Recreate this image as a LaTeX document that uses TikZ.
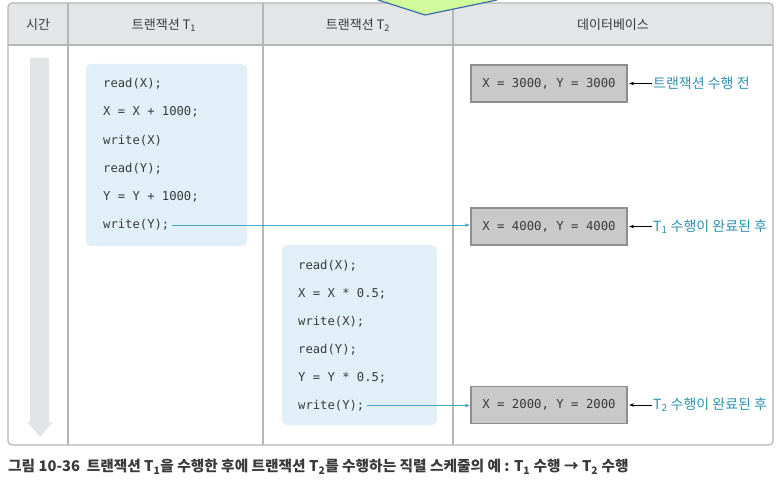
\documentclass[tikz,border=0pt]{standalone}
\usepackage{fontspec}
\setmainfont{Noto Sans CJK KR}
\setmonofont{DejaVu Sans Mono}
\usetikzlibrary{arrows.meta}

\definecolor{hdrgray}{HTML}{E4E5E7}
\definecolor{linegray}{HTML}{B4B6B8}
\definecolor{codeblue}{HTML}{E1F0F8}
\definecolor{dbfill}{HTML}{C9C9C9}
\definecolor{dbedge}{HTML}{8E8E8E}
\definecolor{noteteal}{HTML}{2E92B2}
\definecolor{connteal}{HTML}{45A8C4}
\definecolor{timegray}{HTML}{E3E4E6}
\definecolor{tipgreen}{HTML}{D2FB9E}
\definecolor{tipblue}{HTML}{3C6EAE}
\definecolor{textgray}{HTML}{3A3A3A}

\begin{document}
\begin{tikzpicture}[x=1pt, y=-1pt,
    hdrtext/.style={font=\fontsize{13}{15}\selectfont, text=textgray},
    codeline/.style={anchor=west, inner sep=2pt, text=textgray,
      font=\ttfamily\fontsize{12.2}{14}\selectfont},
    dbbox/.style={draw=dbedge, line width=1.3pt, fill=dbfill, text=textgray,
      minimum width=156pt, minimum height=37pt,
      font=\ttfamily\fontsize{12.3}{14}\selectfont},
    note/.style={anchor=west, inner sep=1pt, text=noteteal,
      font=\fontsize{14}{16}\selectfont},
    conn/.style={draw=connteal, line width=0.7pt, -{Latex[length=5pt,width=3.5pt]}},
    ptr/.style={draw=black, line width=0.7pt, shorten >=1.5pt,
      -{Stealth[length=5pt,width=3.5pt]}}]
  \useasboundingbox (0,0) rectangle (780,481);

  % table
  \fill[hdrgray, rounded corners=4pt] (8,45) -- (8,3) -- (773,3) -- (773,45) -- cycle;
  \draw[linegray, line width=1.2pt, rounded corners=4pt] (8,3) rectangle (773,445);
  \draw[linegray, line width=1.2pt] (8,45) -- (773,45);
  \foreach \cx in {68, 263, 453}
    \draw[linegray, line width=1.2pt] (\cx,3) -- (\cx,445);

  % green pointer at the top
  \fill[tipgreen] (378,0) -- (425,15) -- (497,0) -- cycle;
  \draw[tipblue, line width=1.2pt] (378,0) -- (425,15) -- (497,0);

  % headers
  \node[hdrtext] (htime) at (38,25) {시간};
  \node[hdrtext] (hone) at (164,25) {트랜잭션 T\textsubscript{1}};
  \node[hdrtext] (htwo) at (358,25) {트랜잭션 T\textsubscript{2}};
  \node[hdrtext] (hdb) at (613,25) {데이터베이스};

  % time arrow
  \fill[timegray] (30,58) -- (49,58) -- (49,422) -- (53,422) -- (40,437)
    -- (27,422) -- (30,422) -- cycle;

  % transaction T1
  \fill[codeblue, rounded corners=5pt] (86,64) rectangle (247,246);
  \foreach \txt [count=\i] in {{read(X);}, {X = X + 1000;}, {write(X)},
      {read(Y);}, {Y = Y + 1000;}, {write(Y);}}
    \node[codeline] (t1l\i) at (101, {84+28.2*(\i-1)}) {\txt};

  % transaction T2
  \fill[codeblue, rounded corners=5pt] (282,245) rectangle (437,425);
  \foreach \txt [count=\i] in {{read(X);}, {X = X * 0.5;}, {write(X);},
      {read(Y);}, {Y = Y * 0.5;}, {write(Y);}}
    \node[codeline] (t2l\i) at (296, {266+27.9*(\i-1)}) {\txt};

  % database states
  \node[dbbox] (db1) at (549,83.5) {X = 3000, Y = 3000};
  \node[dbbox] (db2) at (549,226.5) {X = 4000, Y = 4000};
  \node[dbbox] (db3) at (549,405) {X = 2000, Y = 2000};

  \node[note] (n1) at (652,83.5) {트랜잭션 수행 전};
  \node[note] (n2) at (652,226.5) {T\textsubscript{1} 수행이 완료된 후};
  \node[note] (n3) at (652,405) {T\textsubscript{2} 수행이 완료된 후};
  \draw[ptr] (n1.west) -- (db1.east);
  \draw[ptr] (n2.west) -- (db2.east);
  \draw[ptr] (n3.west) -- (db3.east);

  \draw[conn] (t1l6.east) -- (t1l6.east -| db2.west);
  \draw[conn] (t2l6.east) -- (t2l6.east -| db3.west);

  % caption
  \node[anchor=west, inner sep=0pt, text=textgray,
    font=\bfseries\fontsize{14.7}{17}\selectfont] (cap) at (8,467)
    {그림 10-36\ \ 트랜잭션 T\textsubscript{1}을 수행한 후에 트랜잭션 T\textsubscript{2}를 수행하는 직렬 스케줄의 예 : T\textsubscript{1} 수행 → T\textsubscript{2} 수행};
\end{tikzpicture}
\end{document}
